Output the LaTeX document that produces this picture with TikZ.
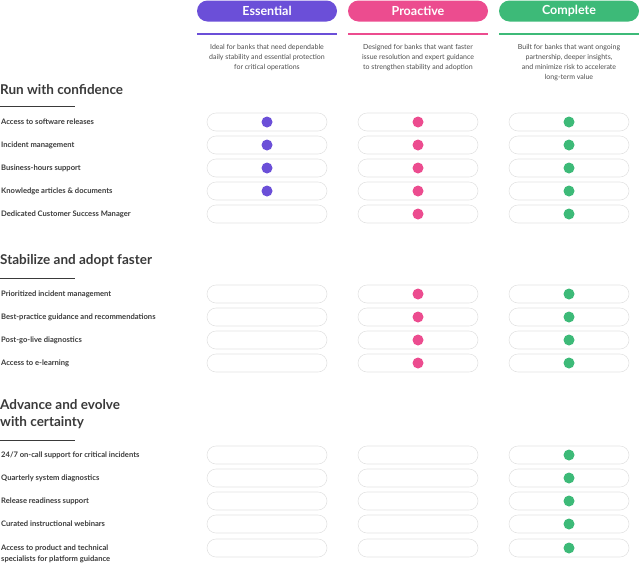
\documentclass[tikz,border=0pt]{standalone}
\usepackage{fontspec}
\setmainfont{Lato}
\definecolor{essC}{HTML}{6B4FD8}
\definecolor{proC}{HTML}{EC4C8F}
\definecolor{comC}{HTML}{3DBA78}
\definecolor{txtC}{HTML}{3A3A3A}
\definecolor{pillC}{HTML}{E3E3E3}
\begin{document}
\begin{tikzpicture}[x=1pt,y=-1pt,
  tier/.style={rounded corners=10.5pt, minimum width=140pt, minimum height=21pt, inner sep=0pt, text=white, font=\fontsize{12.5}{12.5}\selectfont\bfseries},
  desc/.style={align=center, font=\fontsize{7}{9.8}\selectfont, text=black!70},
  pill/.style={draw=pillC, rounded corners=9pt, minimum width=120pt, minimum height=18pt, inner sep=0pt, line width=0.6pt},
  dot/.style={circle, minimum size=11pt, inner sep=0pt},
  head/.style={anchor=west, inner sep=0pt, text=txtC, font=\fontsize{13.5}{17}\selectfont\bfseries},
  feat/.style={anchor=west, inner sep=0pt, text=txtC, font=\fontsize{7.6}{11.5}\selectfont\bfseries, align=left}]
\useasboundingbox (0,0) rectangle (640,566);
% tier headers
\node[tier, fill=essC] (ess) at (267,11) {Essential};
\node[tier, fill=proC] (pro) at (418,11) {Proactive};
\node[tier, fill=comC] (com) at (569,11) {Complete};
\draw[essC, line width=2.5pt] (197,34) -- (337,34);
\draw[proC, line width=2.5pt] (348,34) -- (488,34);
\draw[comC, line width=2.5pt] (499,34) -- (639,34);
\node[desc, anchor=north] (essd) at (267,41) {Ideal for banks that need dependable\\daily stability and essential protection\\for critical operations};
\node[desc, anchor=north] (prod) at (418,41) {Designed for banks that want faster\\issue resolution and expert guidance\\to strengthen stability and adoption};
\node[desc, anchor=north] (comd) at (569,41) {Built for banks that want ongoing\\partnership, deeper insights,\\and minimize risk to accelerate\\long-term value};
% sections
\node[head] (run) at (0,90) {Run with confidence};
\draw[txtC, line width=0.8pt] (0,106) -- (75,106);
\node[head] (stab) at (0,261) {Stabilize and adopt faster};
\draw[txtC, line width=0.8pt] (0,278) -- (75,278);
\node[head, align=left] (adv) at (0,414) {Advance and evolve\\with certainty};
\draw[txtC, line width=0.8pt] (0,440) -- (75,440);
% rows: y / label / essential / proactive
\foreach \y/\lbl/\e/\p in {122/Access to software releases/1/1, 145/Incident management/1/1,
  168/Business-hours support/1/1, 191/Knowledge articles \& documents/1/1,
  214/Dedicated Customer Success Manager/0/1,
  294/Prioritized incident management/0/1, 317/Best-practice guidance and recommendations/0/1,
  340/Post-go-live diagnostics/0/1, 363/Access to e-learning/0/1,
  455/{24{/}7 on-call support for critical incidents}/0/0, 478/Quarterly system diagnostics/0/0,
  501/Release readiness support/0/0, 524/Curated instructional webinars/0/0,
  548/{Access to product and technical\\specialists for platform guidance}/0/0} {
  \node[feat] at (1,\ifnum\y=548 554\else\y\fi) {\lbl};
  \node[pill] (e\y) at (267,\y) {};
  \node[pill] (p\y) at (418,\y) {};
  \node[pill] (c\y) at (569,\y) {};
  \ifnum\e=1 \node[dot, fill=essC] at (e\y) {};\fi
  \ifnum\p=1 \node[dot, fill=proC] at (p\y) {};\fi
  \node[dot, fill=comC] at (c\y) {};
}
\end{tikzpicture}
\end{document}
